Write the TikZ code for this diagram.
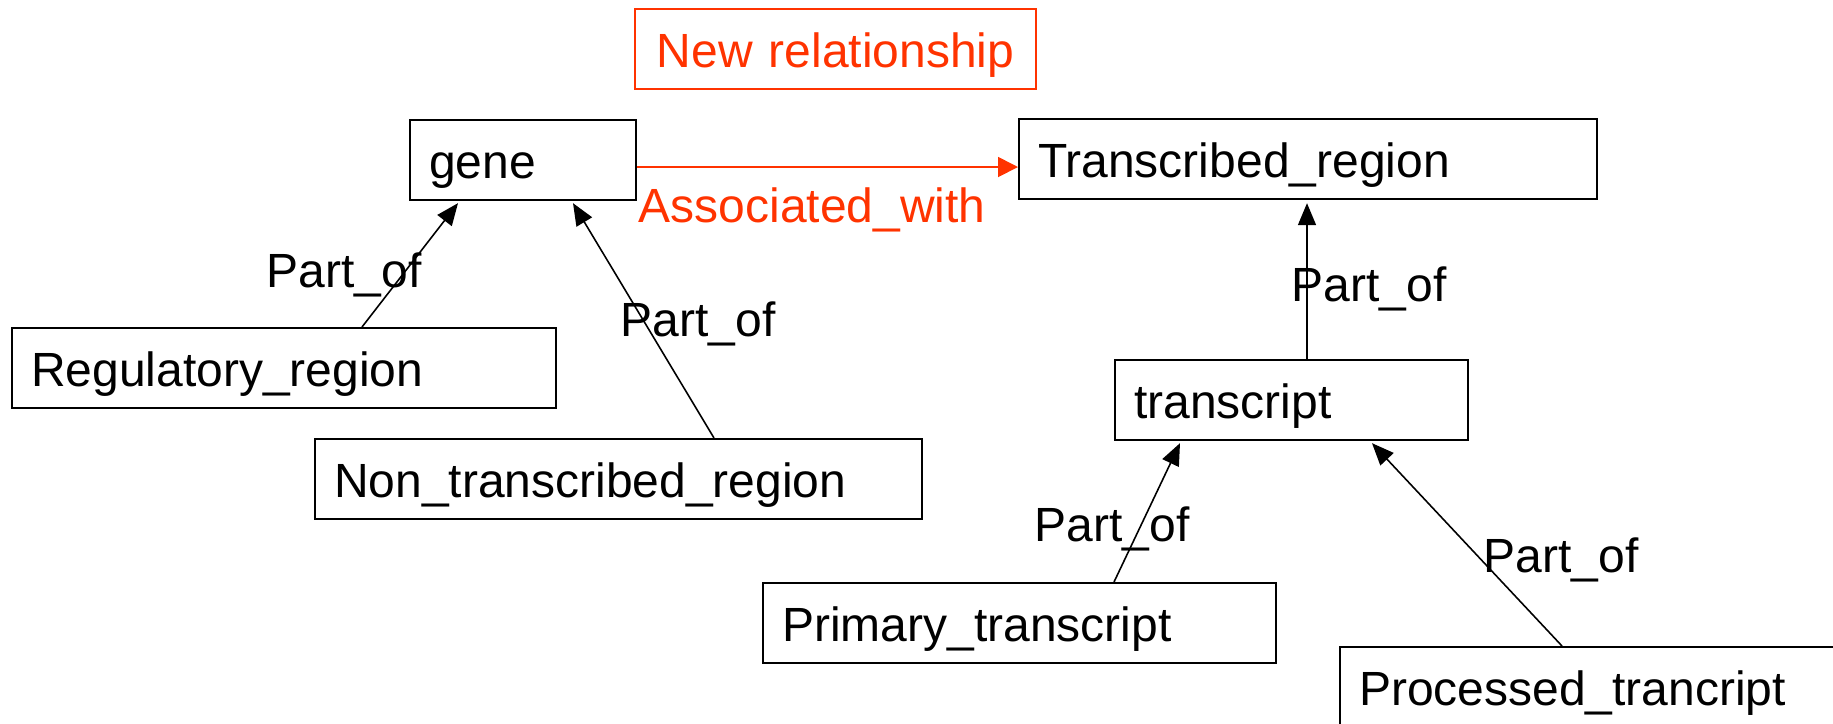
\documentclass[tikz,border=0pt]{standalone}
\usepackage{fontspec}
\setmainfont{Liberation Sans}
\usetikzlibrary{arrows.meta, calc}

\definecolor{relred}{HTML}{FF3300}
\tikzset{
    termbox/.style={draw, line width=0.6pt, anchor=north west, align=left,
        inner xsep=0.19cm, inner ysep=0.1cm, text height=0.48cm, text depth=0.12cm},
    partarrow/.style={line width=0.45pt, -{Triangle[length=0.22cm, width=0.18cm]}},
    newarrow/.style={relred, line width=0.5pt, -{Triangle[length=0.2cm, width=0.2cm]}},
    rellabel/.style={anchor=base west, inner sep=0pt}
}

\begin{document}
\begin{tikzpicture}[x=0.01cm, y=-0.01cm, font=\fontsize{13.65}{16}\selectfont]
            \useasboundingbox (0,0) rectangle (1833,723);

            % Terms
            \node[termbox, draw=relred, text=relred, align=center, text width=3.63cm] (newrel) at (634,8) {New relationship};
            \node[termbox, text width=1.88cm] (gene) at (409,119) {gene};
            \node[termbox, text width=5.40cm] (trreg) at (1018,118) {Transcribed\_region};
            \node[termbox, text width=5.06cm] (regreg) at (11,327) {Regulatory\_region};
            \node[termbox, text width=5.69cm] (nontr) at (314,438) {Non\_transcribed\_region};
            \node[termbox, text width=3.15cm] (trans) at (1114,359) {transcript};
            \node[termbox, text width=4.75cm] (primary) at (762,582) {Primary\_transcript};
            \node[termbox, text width=4.93cm] (processed) at (1339,646) {Processed\_trancript};

            % Associated_with
            \draw[newarrow] ($(gene.north east)+(0,48)$) -- ($(trreg.north west)+(0,49)$);
            \node[rellabel, text=relred] (assoc) at (638,222) {Associated\_with};

            % Part_of
            \draw[partarrow] ($(regreg.north west)+(351,0)$) -- ($(gene.south west)+(49,2)$);
            \draw[partarrow] ($(nontr.north west)+(400,0)$) -- ($(gene.south west)+(164,2)$);
            \draw[partarrow] ($(trans.north west)+(193,0)$) -- ($(trreg.south west)+(289,3)$);
            \draw[partarrow] ($(primary.north west)+(352,0)$) -- ($(trans.south west)+(66,2)$);
            \draw[partarrow] ($(processed.north west)+(223,0)$) -- ($(trans.south west)+(258,2)$);

            \node[rellabel] (partreg) at (266,287) {Part\_of};
            \node[rellabel] (partnon) at (620,336) {Part\_of};
            \node[rellabel] (parttrans) at (1291,301) {Part\_of};
            \node[rellabel] (partprim) at (1034,541) {Part\_of};
            \node[rellabel] (partproc) at (1483,572) {Part\_of};
        \end{tikzpicture}
\end{document}
